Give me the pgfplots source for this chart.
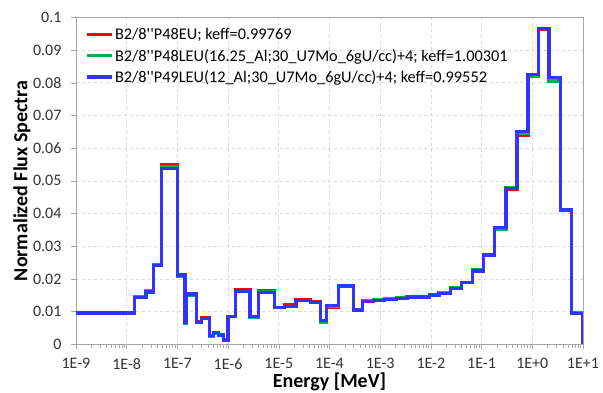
\documentclass[border=0pt]{standalone}
\usepackage{pgfplots}
\pgfplotsset{compat=1.18}
\usepackage{pgfplotstable}
\usepackage{fontspec}
\setmainfont{Carlito}[Ligatures=TeXOff]

\definecolor{cRed}{RGB}{255,0,0}
\definecolor{cGreen}{RGB}{0,176,80}
\definecolor{cBlue}{RGB}{51,51,255}
\definecolor{cGrid}{RGB}{217,217,217}
\definecolor{cAxis}{RGB}{166,166,166}

\pgfplotstableread{
E          red     green   blue
1e-9       0.0096  0.0095  0.0096
1.413e-8   0.0145  0.0146  0.0144
2.399e-8   0.0164  0.0164  0.0160
3.350e-8   0.0245  0.0243  0.0242
4.898e-8   0.0550  0.0544  0.0537
1.0e-7     0.0213  0.0209  0.0212
1.413e-7   0.0066  0.0064  0.0066
1.514e-7   0.0154  0.0150  0.0154
2.399e-7   0.0068  0.0067  0.0067
3.020e-7   0.0081  0.0078  0.0078
4.365e-7   0.0027  0.0025  0.0026
5.129e-7   0.0036  0.0034  0.0035
6.457e-7   0.0029  0.0027  0.0028
8.128e-7   0.0014  0.0012  0.0012
1.0e-6     0.0086  0.0084  0.0085
1.413e-6   0.0166  0.0163  0.0163
2.692e-6   0.0085  0.0082  0.0085
3.981e-6   0.0165  0.0160  0.0159
8.128e-6   0.0113  0.0113  0.0113
1.318e-5   0.0121  0.0116  0.0116
2.188e-5   0.0137  0.0134  0.0134
4.169e-5   0.0130  0.0127  0.0127
6.607e-5   0.0070  0.0068  0.0072
8.81e-5    0.0114  0.0116  0.0118
1.479e-4   0.0178  0.0180  0.0181
3.020e-4   0.0105  0.0105  0.0105
4.467e-4   0.0130  0.0133  0.0130
7.499e-4   0.0135  0.0137  0.0135
1.230e-3   0.0138  0.0141  0.0138
2.089e-3   0.0139  0.0142  0.0139
3.388e-3   0.0145  0.0142  0.0142
5.623e-3   0.0146  0.0143  0.0143
9.226e-3   0.0152  0.0149  0.0149
1.445e-2   0.0156  0.0159  0.0156
2.455e-2   0.0171  0.0174  0.0171
4.027e-2   0.0188  0.0190  0.0188
6.607e-2   0.0224  0.0227  0.0224
0.1072     0.0273  0.0271  0.0273
0.1778     0.0358  0.0352  0.0358
0.3020     0.0474  0.0478  0.0477
0.5012     0.0638  0.0645  0.0650
0.8222     0.0823  0.0818  0.0824
1.349      0.0963  0.0966  0.0966
2.138      0.0815  0.0805  0.0815
3.631      0.0408  0.0413  0.0413
5.888      0.0095  0.0097  0.0095
10         0       0       0
}\fluxdata

\begin{document}
\begin{tikzpicture}
\useasboundingbox (0,0) rectangle (603pt,392pt);
\begin{semilogxaxis}[
  at={(76pt,47.7pt)}, anchor=south west,
  scale only axis, width=507pt, height=327pt,
  xmin=1e-9, xmax=10, ymin=0, ymax=0.1,
  xtick={1e-9,1e-8,1e-7,1e-6,1e-5,1e-4,1e-3,1e-2,1e-1,1,10},
  xticklabels={1E-9,1E-8,1E-7,1E-6,1E-5,1E-4,1E-3,1E-2,1E-1,1E+0,1E+1},
  minor xtick={2e-9,3e-9,4e-9,5e-9,6e-9,7e-9,8e-9,9e-9,
    2e-8,3e-8,4e-8,5e-8,6e-8,7e-8,8e-8,9e-8,
    2e-7,3e-7,4e-7,5e-7,6e-7,7e-7,8e-7,9e-7,
    2e-6,3e-6,4e-6,5e-6,6e-6,7e-6,8e-6,9e-6,
    2e-5,3e-5,4e-5,5e-5,6e-5,7e-5,8e-5,9e-5,
    2e-4,3e-4,4e-4,5e-4,6e-4,7e-4,8e-4,9e-4,
    2e-3,3e-3,4e-3,5e-3,6e-3,7e-3,8e-3,9e-3,
    2e-2,3e-2,4e-2,5e-2,6e-2,7e-2,8e-2,9e-2,
    0.2,0.3,0.4,0.5,0.6,0.7,0.8,0.9,
    2,3,4,5,6,7,8,9},
  ytick={0,0.01,0.02,0.03,0.04,0.05,0.06,0.07,0.08,0.09,0.1},
  scaled y ticks=false,
  yticklabel style={/pgf/number format/fixed, /pgf/number format/precision=2, xshift=-6pt},
  xticklabel style={inner sep=0pt, yshift=-9pt},
  /pgf/number format/assume math mode=true,
  ticklabel style={font=\fontsize{16}{18}\selectfont, text=black!80},
  xtick pos=bottom, ytick pos=left,
  tick align=outside,
  major tick length=5pt, minor tick length=3.5pt,
  every tick/.style={cAxis},
  axis line style={cAxis, line width=0.8pt},
  xmajorgrids, ymajorgrids, xminorgrids=false,
  major grid style={cGrid, dashed, line width=0.6pt},
  xlabel={Energy [MeV]},
  ylabel={Normalized Flux Spectra},
  label style={font=\fontsize{20}{22}\selectfont\bfseries, inner sep=0pt},
  xlabel style={at={(axis description cs:0.5,0)}, anchor=center, yshift=-37.5pt},
  ylabel style={at={(axis description cs:-0.1065,0.5)}, anchor=center},
  legend cell align=left,
  legend style={draw=none, fill=none, at={(rel axis cs:0.018,0.968)}, anchor=north west,
    font=\fontsize{16.3}{18}\selectfont, row sep=6.8pt, inner sep=0pt,
    nodes={inner xsep=1.5pt, inner ysep=0.5pt}},
  legend image code/.code={\draw[#1] (0pt,0pt) -- (25pt,0pt);},
]
\addplot[const plot, cRed, line width=3.2pt] table[x=E, y=red] {\fluxdata};
\addlegendentry{B2/8''P48EU; keff=0.99769}
\addplot[const plot, cGreen, line width=3.2pt] table[x=E, y=green] {\fluxdata};
\addlegendentry{B2/8''P48LEU(16.25\_Al;30\_U7Mo\_6gU/cc)+4; keff=1.00301}
\addplot[const plot, cBlue, line width=3.2pt] table[x=E, y=blue] {\fluxdata};
\addlegendentry{B2/8''P49LEU(12\_Al;30\_U7Mo\_6gU/cc)+4; keff=0.99552}
\end{semilogxaxis}
\end{tikzpicture}
\end{document}
